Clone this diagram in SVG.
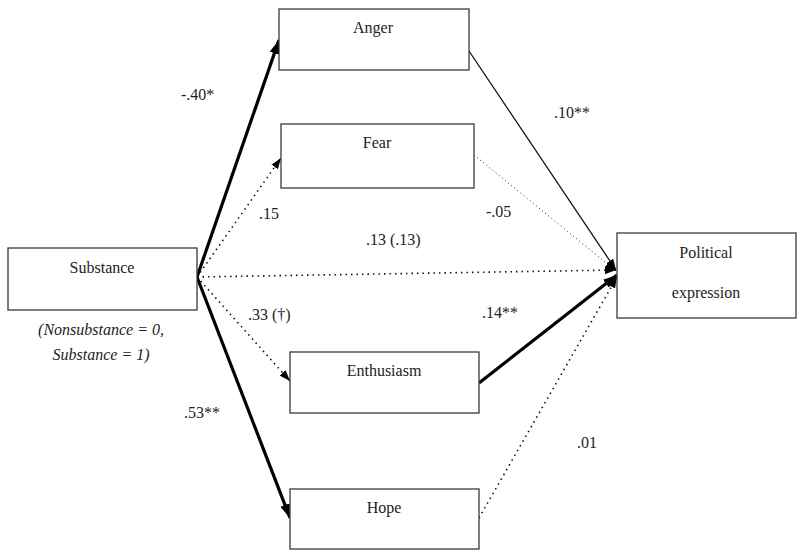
<svg xmlns="http://www.w3.org/2000/svg" width="797" height="550" viewBox="0 0 797 550">
<style>
.box{fill:#fff;stroke:#3a3a3a;stroke-width:1.3}
text{font-family:'Liberation Serif','Times New Roman',Tinos,'DejaVu Serif',serif;font-size:16px;fill:#222}
.t{text-anchor:middle}
.it{font-style:italic}
.thick{stroke:#000;stroke-width:3.2;fill:none}
.thin{stroke:#111;stroke-width:1.3;fill:none}
.dot{stroke:#111;stroke-width:1.6;stroke-dasharray:1.5 4;fill:none}
.fdot{stroke:#222;stroke-width:1;stroke-dasharray:1 3;fill:none}
</style>
<defs>
<marker id="a" markerUnits="userSpaceOnUse" markerWidth="11" markerHeight="8" refX="11" refY="4" orient="auto"><path d="M0,0 L11,4 L0,8 z" fill="#000"/></marker>
<marker id="ab" markerUnits="userSpaceOnUse" markerWidth="14" markerHeight="10" refX="14" refY="5" orient="auto"><path d="M0,0 L14,5 L0,10 z" fill="#000"/></marker>
</defs>
<g id="connectors">
<path class="thick" d="M197,277 L279,40" marker-end="url(#ab)"/>
<path class="dot" d="M197,277 L281,158" marker-end="url(#a)"/>
<path class="dot" d="M197,277 L616,270" marker-end="url(#a)"/>
<path class="dot" d="M197,277 L290,381" marker-end="url(#a)"/>
<path class="thick" d="M197,277 L290,518" marker-end="url(#ab)"/>
<path class="thin" d="M469,51 L616,270" marker-end="url(#a)"/>
<path class="fdot" d="M474,155 L616,271" marker-end="url(#a)"/>
<path class="thick" d="M479,383 L617,275" marker-end="url(#ab)"/>
<path class="dot" d="M479,518 L617,277" marker-end="url(#a)"/>
</g>
<g id="substance">
<rect class="box" x="8" y="248" width="189" height="62"/>
<text class="t" x="102" y="273" font-family="Liberation Serif, serif">Substance</text>
<text class="t it" x="101" y="335" font-family="Liberation Serif, serif">(Nonsubstance = 0,</text>
<text class="t it" x="101" y="360" font-family="Liberation Serif, serif">Substance = 1)</text>
</g>
<g id="anger">
<rect class="box" x="279" y="9" width="190" height="61"/>
<text class="t" x="373" y="33" font-family="Liberation Serif, serif">Anger</text>
</g>
<g id="fear">
<rect class="box" x="281" y="124" width="193" height="64"/>
<text class="t" x="377" y="148" font-family="Liberation Serif, serif">Fear</text>
</g>
<g id="enthusiasm">
<rect class="box" x="290" y="352" width="189" height="61"/>
<text class="t" x="384" y="376" font-family="Liberation Serif, serif">Enthusiasm</text>
</g>
<g id="hope">
<rect class="box" x="290" y="489" width="189" height="60"/>
<text class="t" x="384" y="513" font-family="Liberation Serif, serif">Hope</text>
</g>
<g id="political">
<rect class="box" x="617" y="233" width="179" height="85"/>
<text class="t" x="706" y="258" font-family="Liberation Serif, serif">Political</text>
<text class="t" x="706" y="298" font-family="Liberation Serif, serif">expression</text>
</g>
<g id="labels">
<text x="181" y="100" font-family="Liberation Serif, serif">-.40*</text>
<text x="259" y="219" font-family="Liberation Serif, serif">.15</text>
<text x="366" y="245" font-family="Liberation Serif, serif">.13 (.13)</text>
<text x="486" y="217" font-family="Liberation Serif, serif">-.05</text>
<text x="554" y="118" font-family="Liberation Serif, serif">.10**</text>
<text x="248" y="320" font-family="Liberation Serif, serif">.33 (†)</text>
<text x="184" y="418" font-family="Liberation Serif, serif">.53**</text>
<text x="482" y="318" font-family="Liberation Serif, serif">.14**</text>
<text x="577" y="448" font-family="Liberation Serif, serif">.01</text>
</g>
</svg>
